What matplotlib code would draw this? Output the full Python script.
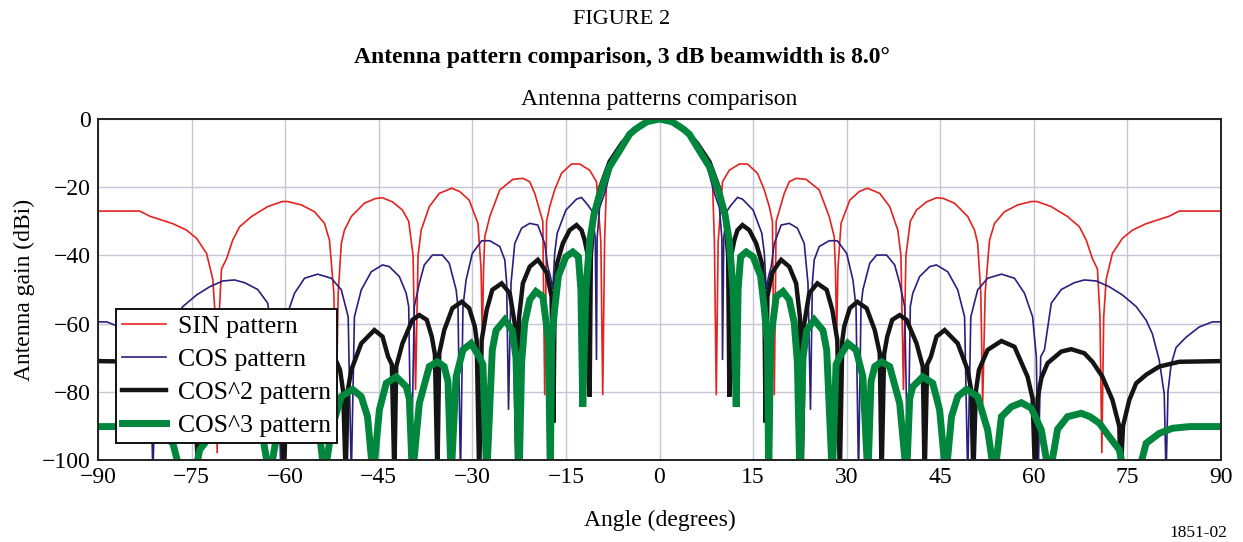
import numpy as np
import matplotlib
matplotlib.use("Agg")
import matplotlib.pyplot as plt

plt.rcParams['font.family'] = ['Liberation Serif', 'DejaVu Serif']

# one side of each pattern (0..90 deg), the patterns are symmetric about boresight
sin_ang = [0, 2, 4, 6, 7.7, 8.5, 8.8, 9.1, 9.4, 10.1, 11.2, 12.8, 14.1, 15.7, 16.8, 17.6,
           18.1, 18.4, 18.7, 20.0, 20.8, 21.9, 23.5, 25.6, 27.2, 28.0, 28.2, 28.4, 28.6,
           29.1, 30.5, 32.0, 33.3, 35.3, 36.9, 38.2, 38.7, 39.1, 39.5, 40.2, 41.2, 42.8,
           44.4, 45.5, 47.3, 49.4, 50.5, 51.0, 51.5, 51.8, 52.2, 52.9, 53.7, 55.3, 57.4,
           59.6, 60.5, 62.8, 65.4, 67.3, 68.4, 69.4, 70.2, 70.6, 70.9, 71.2, 71.6, 72.6,
           74.2, 75.8, 78.0, 81.7, 83.3, 90]
sin_db = [0, -0.8, -3, -7.5, -14, -19, -36, -81, -36, -18.4, -15, -13.2, -13.2, -15.9, -20.8,
          -25.7, -30, -81, -30, -21.8, -18.4, -17.4, -17.7, -20.8, -28.6, -34.5, -44, -64,
          -44, -30.6, -23.8, -21.3, -20.3, -21.8, -25.7, -32.6, -40, -79.5, -40, -30, -26.7,
          -24.3, -23.1, -23.3, -24.7, -28.6, -32.6, -36.5, -51, -83.4, -51, -35.5, -30.6,
          -27.2, -25.2, -24.2, -24.2, -25.7, -28.6, -31.6, -35.5, -41, -44, -58, -98, -58,
          -47, -39.4, -35, -32.6, -30.7, -28.5, -27, -27]

cos_ang = [0, 2, 4, 6, 7.5, 8.8, 9.6, 10.0, 10.1, 10.3, 10.8, 11.5, 12.5, 13.3, 15.0, 16.4,
           16.8, 17.1, 17.5, 17.9, 18.4, 19.5, 20.8, 22.1, 23.2, 23.8, 24.2, 24.5, 24.8,
           25.6, 27.2, 28.5, 30.0, 31.0, 31.5, 31.9, 32.3, 32.6, 33.7, 34.8, 36.4, 37.7,
           38.5, 39.3, 39.8, 40.2, 40.6, 41.7, 43.3, 44.4, 46.2, 47.8, 48.9, 49.4, 49.9,
           51.0, 52.6, 54.8, 56.9, 58.5, 59.8, 60.4, 60.7, 61.1, 61.7, 62.8, 64.4, 66.5,
           68.1, 70.0, 72.1, 74.2, 76.4, 78.0, 79.0, 80.1, 80.9, 81.2, 81.5, 82.0, 82.8,
           84.4, 86.5, 88.6, 90]
cos_db = [0, -0.8, -3, -7.2, -13, -21.8, -26, -35, -70.7, -35, -27, -25.2, -23, -23.5, -26.7,
          -33.5, -39.4, -50, -46, -43.3, -36.5, -31.1, -30.6, -32, -36.5, -48.2, -85.3, -48,
          -41.3, -37.4, -35.7, -35.7, -39.4, -47.2, -55, -105, -55, -50.1, -42.3, -39.9,
          -39.9, -42.8, -48.2, -55, -105, -55, -51.1, -46.2, -43.3, -42.8, -44.8, -50.1,
          -58, -105, -58, -50.1, -46.7, -45.5, -46.7, -51.1, -58, -69.7, -105, -69.7, -67.7,
          -54, -50, -48, -47.2, -47.5, -49.2, -51.6, -55, -59, -63, -70.7, -80.6, -105, -80,
          -72, -67, -64, -61, -59.5, -59.5]

cos2_ang = [0, 2, 4, 6, 8, 9.5, 10.5, 11.0, 11.2, 11.5, 12.0, 12.5, 13.3, 14.4, 15.5, 16.4,
            16.8, 17.0, 17.3, 18.1, 18.9, 19.5, 20.8, 21.9, 22.5, 22.8, 23.2, 24.0, 25.3,
            26.8, 27.7, 28.5, 28.9, 29.3, 29.6, 30.5, 31.7, 33.2, 34.5, 35.3, 35.6, 36.0,
            36.5, 37.3, 38.5, 39.6, 41.2, 42.2, 42.5, 42.9, 43.5, 44.4, 45.7, 47.8, 49.4,
            50.0, 50.3, 50.7, 51.2, 52.6, 54.8, 56.9, 59.0, 59.8, 60.2, 60.6, 61.2, 62.2,
            64.4, 66.0, 68.1, 69.4, 71.0, 72.6, 73.7, 73.9, 74.3, 75.3, 76.4, 78.0, 80.1,
            83.3, 90]
cos2_db = [0, -0.8, -3, -7, -12.5, -20, -28, -40, -81.4, -40, -35.5, -32.6, -31.1, -32.6,
           -36.5, -42.3, -52, -89, -52, -45, -42.8, -41.3, -43.3, -48.2, -58, -105, -60,
           -51.1, -48.2, -50.1, -56, -64.8, -105, -65, -60.9, -55.5, -53.6, -55.5, -61.9,
           -68.7, -105, -69, -63.8, -58.9, -57.5, -58.9, -65.8, -72.6, -105, -72, -69.7,
           -63.8, -61.9, -65.8, -73.6, -80, -105, -80, -73.6, -67.7, -65.1, -66.8, -75.6,
           -82, -105, -82, -76, -71.6, -68.2, -67.5, -68.7, -71.2, -75.6, -82.4, -90.2, -105,
           -90, -82.4, -77.5, -75, -72.6, -71.2, -71]

cos3_ang = [0, 2, 3.2, 4, 4.8, 6.4, 8, 9.6, 10.5, 11.2, 11.8, 12.3, 12.6, 13.0, 13.9, 15.0,
            16.2, 16.8, 17.3, 17.5, 17.8, 18.7, 19.8, 20.8, 21.6, 22.1, 22.5, 23.0, 23.6,
            24.8, 26.2, 26.8, 27.7, 28.3, 28.9, 30.2, 31.5, 32.6, 33.4, 33.9, 34.5, 35.6,
            36.9, 38.5, 39.6, 40.1, 40.6, 42.2, 43.8, 44.9, 45.9, 46.8, 47.8, 49.2, 51.0,
            52.6, 53.7, 54.8, 56.4, 58.0, 59.6, 61.2, 62.5, 63.8, 65.4, 67.6, 69.0, 70.5,
            72.1, 73.7, 74.6, 76.6, 78.0, 80.1, 82.2, 85, 90]
cos3_db = [0, -0.8, -2.2, -3.2, -4.5, -9.3, -14, -22, -28, -36, -50, -84.4, -50, -40.4, -39,
           -40.4, -46, -55.7, -65.5, -105, -65, -52.1, -50.6, -53, -59.8, -71.5, -105, -70,
           -62, -58.9, -62, -67.7, -105, -72, -69.7, -65.8, -67.7, -75.6, -105, -77, -72.6,
           -71.2, -72.6, -83.4, -105, -82, -78.5, -75.6, -77.5, -85.3, -105, -87.3, -81.4,
           -79.3, -81.4, -91.2, -105, -87.3, -84.4, -83.2, -84.8, -91.2, -105, -91, -87.3,
           -86.3, -87.3, -89.2, -93.2, -97, -105, -105, -95.1, -92.2, -90.7, -90.2, -90.2]


def both_sides(ang, db):
    ang = np.asarray(ang, float)
    db = np.asarray(db, float)
    return (np.concatenate([-ang[:0:-1], ang]),
            np.concatenate([db[:0:-1], db]))


fig = plt.figure(figsize=(12.43, 5.42), dpi=100)
ax = fig.add_axes([98 / 1243, 1 - 460 / 542, 1123 / 1243, 341 / 542])

series = [
    ("SIN pattern", sin_ang, sin_db, "#e3231f", 1.2),
    ("COS pattern", cos_ang, cos_db, "#2a1f7e", 1.2),
    ("COS^2 pattern", cos2_ang, cos2_db, "#141414", 3.2),
    ("COS^3 pattern", cos3_ang, cos3_db, "#00873d", 5.0),
]
for i, (name, a, g, col, lw) in enumerate(series):
    x, y = both_sides(a, g)
    ax.plot(x, y, color=col, lw=lw, label=name, zorder=3 + i,
            solid_joinstyle='miter')

ax.set_xlim(-90, 90)
ax.set_ylim(-100, 0)
ax.set_xticks(np.arange(-90, 91, 15))
ax.set_yticks(np.arange(-100, 1, 20))
ax.grid(True, color="#c6c6d4", lw=1.0, zorder=0)
ax.tick_params(labelsize=17, length=0, pad=5)
for s in ax.spines.values():
    s.set_linewidth(1.4)
    s.set_color("#222222")
    s.set_zorder(10)

ax.set_xlabel("Angle (degrees)", fontsize=17, labelpad=16)
ax.set_ylabel("Antenna gain (dBi)", fontsize=17, labelpad=5)

leg = ax.legend(loc="upper left", bbox_to_anchor=(0.016, 0.443), fontsize=18.5,
                frameon=True, fancybox=False, framealpha=1, edgecolor="#111111",
                handlelength=1.7, handletextpad=0.45, labelspacing=0.38,
                borderpad=0.25, borderaxespad=0)
leg.get_frame().set_linewidth(1.4)
leg.set_zorder(20)

fig.text(0.5, 1 - 19 / 542, "FIGURE 2", ha="center", va="center", fontsize=16)
fig.text(0.5, 1 - 57 / 542, "Antenna pattern comparison, 3 dB beamwidth is 8.0°",
         ha="center", va="center", fontsize=17, fontweight="bold")
ax.set_title("Antenna patterns comparison", fontsize=17, pad=10)
fig.text(1227 / 1243, 1 - 533 / 542, "1851-02", ha="right", va="center", fontsize=12.5)

fig.savefig("out.png", dpi=100)
